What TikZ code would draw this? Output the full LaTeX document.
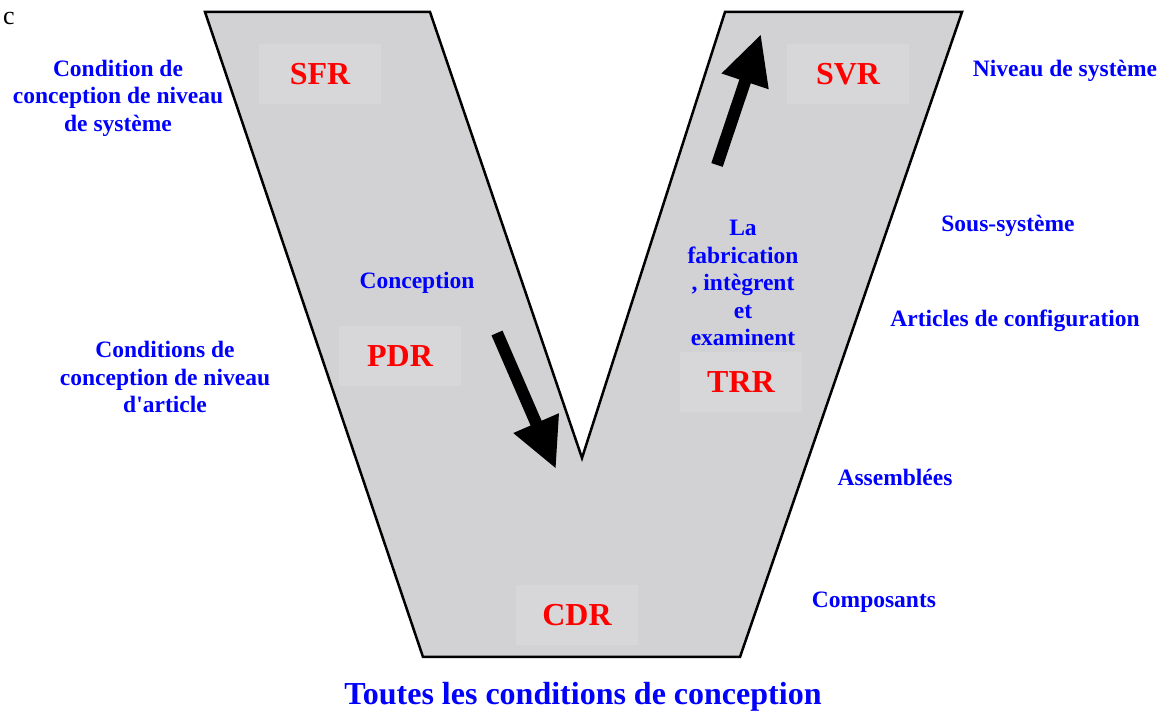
\documentclass[tikz,border=0pt]{standalone}
\usepackage{fontspec}
\setmainfont{Liberation Serif}
\usetikzlibrary{arrows.meta}
\definecolor{vgray}{RGB}{210,210,212}
\definecolor{patch}{RGB}{215,215,217}
\begin{document}
\begin{tikzpicture}[x=1pt, y=1pt,
	lvl/.style = {text=blue, font=\bfseries\fontsize{23.5}{27.5}\selectfont, align=center},
	rev/.style = {text=red, fill=patch, font=\bfseries\fontsize{32}{36}\selectfont, minimum width=122pt, minimum height=60pt},
	bigarrow/.style = {line width=12pt, -{Triangle[length=50pt, width=46pt]}}]
	\useasboundingbox (0,0) rectangle (1175,714);
	% the V
	\draw[fill=vgray, line width=2.5pt, line join=miter]
		(205,702) -- (430,702) -- (582,256) -- (725,702) -- (962,702)
		-- (740,57) -- (423,57) -- cycle;
	\node (c) at (9,695) {\fontsize{26}{30}\selectfont c};
	% reviews
	\node[rev] (sfr) at (320,640) {SFR};
	\node[rev] (pdr) at (400,358) {PDR};
	\node[rev] (cdr) at (577,99) {CDR};
	\node[rev] (trr) at (741,332) {TRR};
	\node[rev] (svr) at (848,640) {SVR};
	% left side
	\node[lvl] (syscond) at (118,616) {Condition de\\conception de niveau\\de syst\`eme};
	\node[lvl] (artcond) at (165,337) {Conditions de\\conception de niveau\\d\textquotesingle article};
	\node[lvl] (concep) at (417,431) {Conception};
	\node[lvl] (fab) at (743,431) {La\\fabrication\\, int\`egrent\\et\\examinent};
	% right side
	\node[lvl] (niv) at (1065,643) {Niveau de syst\`eme};
	\node[lvl] (sous) at (1008,488) {Sous-syst\`eme};
	\node[lvl] (conf) at (1015,393) {Articles de configuration};
	\node[lvl] (ass) at (895,237) {Assembl\'ees};
	\node[lvl] (comp) at (874,112) {Composants};
	\node[lvl, font=\bfseries\fontsize{32}{36}\selectfont] (all) at (583,17) {Toutes les conditions de conception};
	% arrows
	\coordinate (d1) at (497,381);
	\coordinate (d2) at (556,245);
	\coordinate (u1) at (717,549);
	\coordinate (u2) at (761,680);
	\draw[bigarrow] (d1) -- (d2);
	\draw[bigarrow] (u1) -- (u2);
\end{tikzpicture}
\end{document}
